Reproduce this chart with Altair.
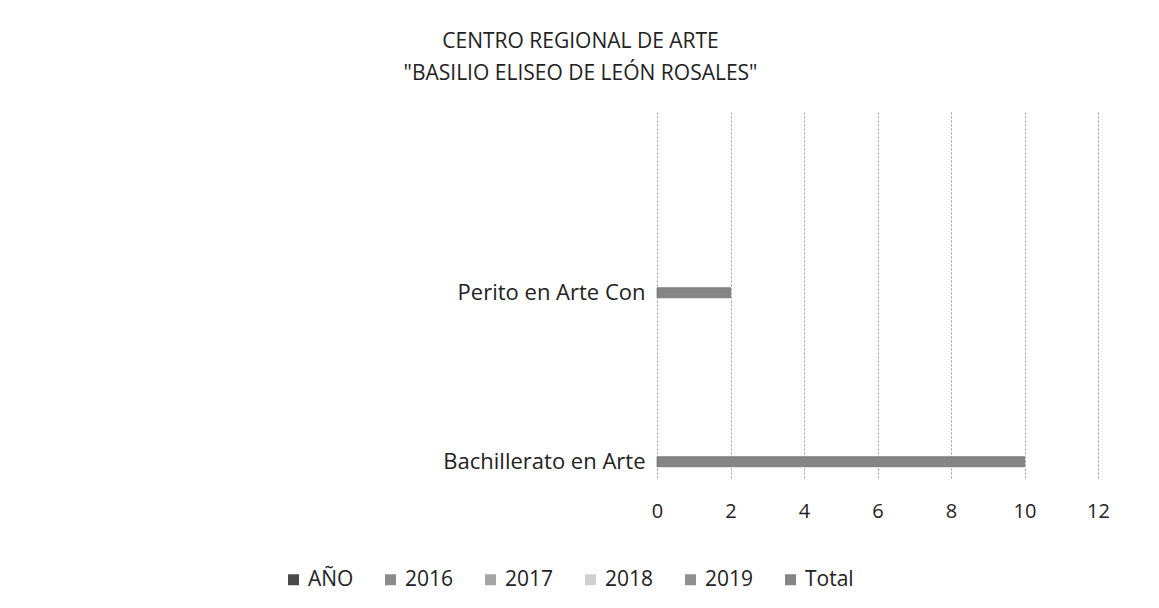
import altair as alt
import pandas as pd

categories = ["Perito en Arte Con", "Bachillerato en Arte"]
total_values = [2, 10]
series_names = ["AÑO", "2016", "2017", "2018", "2019", "Total"]
series_colors = ["#4a4a4a", "#8c8c8c", "#a5a5a5", "#d0d0d0", "#909090", "#858585"]
x_ticks = [0, 2, 4, 6, 8, 10, 12]
title_lines = ["CENTRO REGIONAL DE ARTE", "\"BASILIO ELISEO DE LEÓN ROSALES\""]

df = pd.DataFrame({
    "categoria": categories,
    "valor": total_values,
    "serie": ["Total"] * len(categories),
})

FONT = "Open Sans"

chart = alt.Chart(df).mark_bar(stroke="#5a5a5a", strokeWidth=0.6).encode(
    x=alt.X(
        "valor:Q",
        scale=alt.Scale(domain=[0, 12], nice=False, zero=True),
        axis=alt.Axis(
            title=None,
            values=x_ticks,
            format="d",
            grid=True,
            gridColor="#9a9a9a",
            gridDash=[2, 2],
            gridWidth=1,
            domain=False,
            ticks=False,
            labelFlush=False,
            labelFontSize=20,
            labelFont=FONT,
            labelColor="#222222",
            labelPadding=23,
        ),
    ),
    y=alt.Y(
        "categoria:N",
        sort=categories,
        scale=alt.Scale(domain=categories, paddingInner=0.94, paddingOuter=0.553, align=0.94),
        axis=alt.Axis(
            title=None,
            domain=False,
            ticks=False,
            grid=False,
            labelFontSize=22,
            labelFont=FONT,
            labelColor="#222222",
            labelPadding=12,
            labelLimit=400,
        ),
    ),
    color=alt.Color(
        "serie:N",
        scale=alt.Scale(domain=series_names, range=series_colors),
        legend=alt.Legend(
            title=None,
            orient="none",
            direction="horizontal",
            legendX=-374,
            legendY=457,
            symbolType="square",
            symbolSize=121,
            symbolStrokeWidth=0,
            labelFontSize=21,
            labelFont=FONT,
            labelColor="#222222",
            labelOffset=4,
            columnPadding=26,
        ),
    ),
).properties(
    width=441,
    height=366,
    padding={"left": 649, "top": 104, "right": 53, "bottom": 122},
    autosize=alt.AutoSizeParams(type="none"),
    title=alt.TitleParams(
        text=title_lines,
        anchor="middle",
        frame="group",
        dx=-297,
        fontSize=21,
        font=FONT,
        fontWeight="normal",
        color="#222222",
        lineHeight=32,
        offset=28,
    ),
).configure(background="white").configure_view(strokeWidth=0)

chart.save("out.html", embed_options={"renderer": "svg", "actions": False})
